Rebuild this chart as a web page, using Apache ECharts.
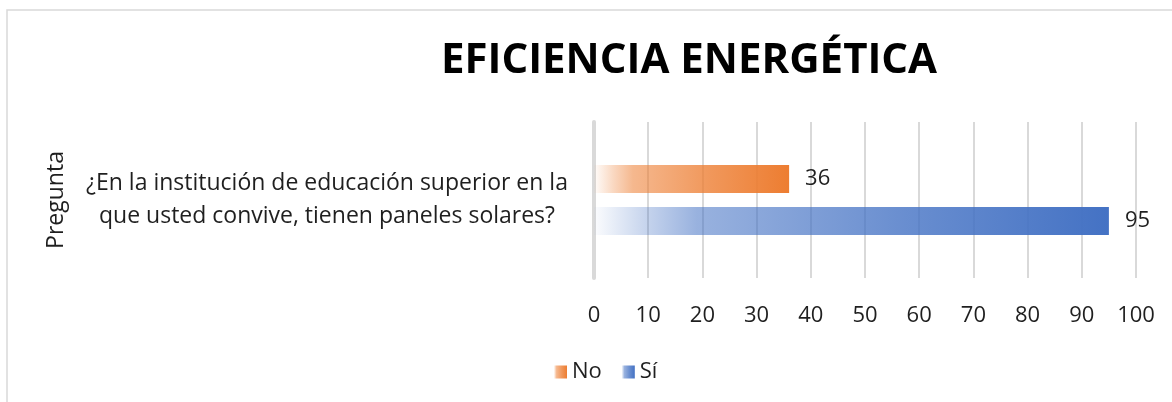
<!DOCTYPE html>
<html>
<head>
<meta charset="utf-8">
<script src="https://cdn.jsdelivr.net/npm/echarts@6/dist/echarts.min.js"></script>
<style>
  html, body { margin: 0; padding: 0; background: #fff; }
  #chart { width: 1172px; height: 402px; }
</style>
</head>
<body>
<div id="chart"></div>
<script>
// Chart data
const chartTitle = 'EFICIENCIA ENERGÉTICA';
const axisName = 'Pregunta';
const categories = ['¿En la institución de educación superior en la\nque usted convive, tienen paneles solares?'];
const seriesNames = ['No', 'Sí'];
const noValues = [36];
const siValues = [95];
const xTicks = { min: 0, max: 100, interval: 10 };

const fontFamily = '"Open Sans", "DejaVu Sans", sans-serif';
const textColor = '#1f1f1f';

/**
 * Horizontal gradient that fades from white at the bar base to the full colour
 */
function fadeGradient(r, g, b) {
  return new echarts.graphic.LinearGradient(0, 0, 1, 0, [
    { offset: 0, color: `rgba(${r},${g},${b},0.02)` },
    { offset: 0.1, color: `rgba(${r},${g},${b},0.3)` },
    { offset: 0.2, color: `rgba(${r},${g},${b},0.55)` },
    { offset: 0.6, color: `rgba(${r},${g},${b},0.8)` },
    { offset: 1, color: `rgba(${r},${g},${b},1)` }
  ]);
}

const chart = echarts.init(document.getElementById('chart'));

const labelStyle = {
  show: true,
  position: 'right',
  distance: 16,
  fontFamily: fontFamily,
  fontSize: 22,
  color: textColor
};

option = {
  animation: false,
  backgroundColor: '#fff',
  title: {
    text: chartTitle,
    left: 684,
    top: 35,
    textAlign: 'center',
    textStyle: {
      fontFamily: fontFamily,
      fontWeight: 'bold',
      fontSize: 42,
      color: '#000'
    }
  },
  graphic: [{
    type: 'rect',
    shape: { x: 7, y: 10, width: 1200, height: 420 },
    style: { fill: 'none', stroke: '#d9d9d9', lineWidth: 1.5 },
    silent: true
  }],
  legend: {
    data: seriesNames,
    left: 549,
    top: 356,
    icon: 'rect',
    itemWidth: 13,
    itemHeight: 13,
    itemGap: 20,
    textStyle: {
      fontFamily: fontFamily,
      fontSize: 22,
      color: textColor
    }
  },
  grid: {
    left: 594,
    right: 36,
    top: 122,
    bottom: 124
  },
  xAxis: {
    type: 'value',
    min: xTicks.min,
    max: xTicks.max,
    interval: xTicks.interval,
    axisLine: { show: false },
    axisTick: { show: false },
    axisLabel: {
      margin: 27,
      fontFamily: fontFamily,
      fontSize: 22,
      color: textColor
    },
    splitLine: {
      lineStyle: { color: '#d9d9d9', width: 2 }
    }
  },
  yAxis: {
    type: 'category',
    inverse: true,
    data: categories,
    name: axisName,
    nameLocation: 'middle',
    nameRotate: 90,
    nameGap: 526,
    nameTextStyle: {
      fontFamily: fontFamily,
      fontSize: 23,
      color: textColor
    },
    axisLine: {
      show: true,
      lineStyle: { color: '#d9d9d9', width: 4 }
    },
    axisTick: { show: false },
    axisLabel: {
      margin: 267,
      align: 'center',
      lineHeight: 33,
      padding: [4, 0, 0, 0],
      fontFamily: fontFamily,
      fontSize: 23,
      color: textColor
    }
  },
  series: [
    {
      name: seriesNames[0],
      type: 'bar',
      data: noValues,
      barWidth: 28,
      barGap: '50%',
      itemStyle: { color: fadeGradient(237, 125, 49) },
      label: labelStyle
    },
    {
      name: seriesNames[1],
      type: 'bar',
      data: siValues,
      barWidth: 28,
      barGap: '50%',
      itemStyle: { color: fadeGradient(68, 114, 196) },
      label: labelStyle
    }
  ]
};

chart.setOption(option);
</script>
</body>
</html>
